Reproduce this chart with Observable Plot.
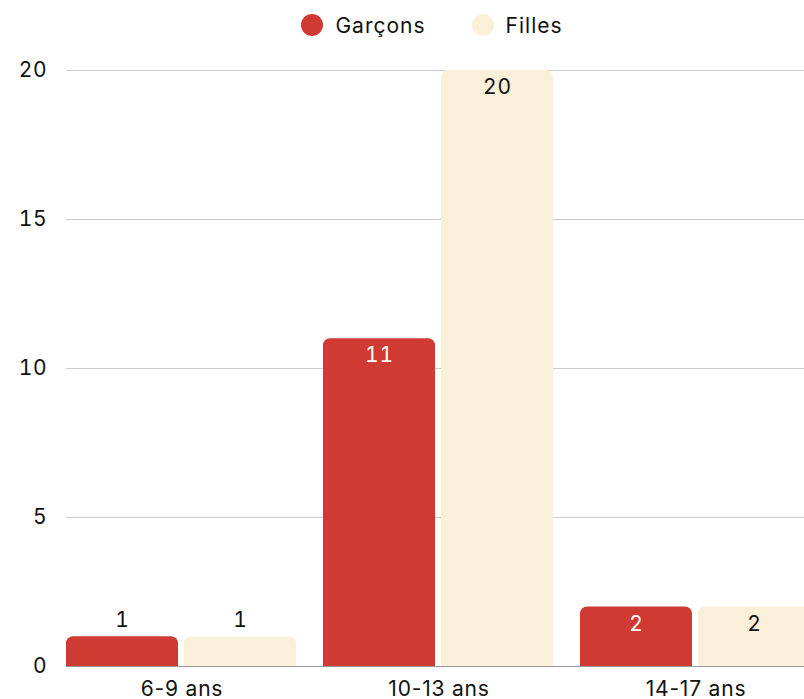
<!DOCTYPE html>
<html>
<head>
<meta charset="utf-8">
<script src="https://cdn.jsdelivr.net/npm/d3@7"></script>
<script src="https://cdn.jsdelivr.net/npm/@observablehq/plot@0.6"></script>
<style>
  html, body { margin: 0; padding: 0; background: #fff; overflow: hidden; }
  #wrap { width: 804px; height: 699px; overflow: hidden; font-family: Inter, "Open Sans", sans-serif; }
  #legend { height: 50px; box-sizing: border-box; width: 812px; padding-left: 52px; display: flex; justify-content: center; align-items: center; gap: 46px; font-size: 21px; letter-spacing: 1px; color: #111; }
  #legend .item { display: flex; align-items: center; gap: 12px; }
  #legend .sw { width: 22px; height: 22px; border-radius: 50%; display: inline-block; }
  #chart { width: 812px; }
  #chart svg { overflow: visible; max-width: none !important; display: block; }
  #chart svg text { letter-spacing: 0.8px; }
</style>
</head>
<body>
<div id="wrap">
  <div id="legend"></div>
  <div id="chart"></div>
</div>
<script>
const groups = ["6-9 ans", "10-13 ans", "14-17 ans"];
const series = ["Garçons", "Filles"];
const garcons = [1, 11, 2];
const filles = [1, 20, 2];
const colors = ["#cf3a32", "#faefd9"];
const yTicks = [0, 5, 10, 15, 20];

const data = [];
groups.forEach((g, i) => {
  data.push({group: g, serie: series[0], value: garcons[i]});
  data.push({group: g, serie: series[1], value: filles[i]});
});

const legend = document.getElementById("legend");
series.forEach((s, i) => {
  const it = document.createElement("div");
  it.className = "item";
  const sw = document.createElement("span");
  sw.className = "sw";
  sw.style.background = colors[i];
  const t = document.createElement("span");
  t.textContent = s;
  it.append(sw, t);
  legend.append(it);
});

const inside = d => d.value > 1;

const chart = Plot.plot({
  width: 812,
  height: 660,
  marginTop: 20,
  marginLeft: 66,
  marginRight: 0,
  marginBottom: 44,
  style: {fontFamily: "Inter, 'Open Sans', sans-serif", fontSize: "21px", color: "#111", background: "transparent", overflow: "visible"},
  fx: {domain: groups, paddingInner: 0.1, paddingOuter: 0, label: null, axis: "bottom", tickSize: 0, tickPadding: 15},
  x: {domain: series, axis: null, paddingInner: 0.05, paddingOuter: 0},
  y: {domain: [0, 20], ticks: yTicks, label: null, axis: null},
  color: {domain: series, range: colors},
  marks: [
    Plot.ruleY(yTicks.filter(t => t > 0), {stroke: "#cccccc", strokeWidth: 1, insetRight: -27}),
    Plot.axisY(yTicks, {tickSize: 0, tickPadding: 19, label: null, fontSize: 21}),
    Plot.barY(data, {fx: "group", x: "serie", y: "value", fill: "serie", ry1: 7}),
    Plot.ruleY([0], {stroke: "#999", strokeWidth: 1, insetRight: -27}),
    Plot.text(data.filter(d => inside(d) && d.serie === series[0]), {fx: "group", x: "serie", y: "value", text: "value", dy: 17, fill: "#fff", fontSize: 21}),
    Plot.text(data.filter(d => inside(d) && d.serie === series[1]), {fx: "group", x: "serie", y: "value", text: "value", dy: 17, fill: "#111", fontSize: 21}),
    Plot.text(data.filter(d => !inside(d)), {fx: "group", x: "serie", y: "value", text: "value", dy: -16, fill: "#111", fontSize: 21})
  ]
});
document.getElementById("chart").append(chart);
</script>
</body>
</html>
